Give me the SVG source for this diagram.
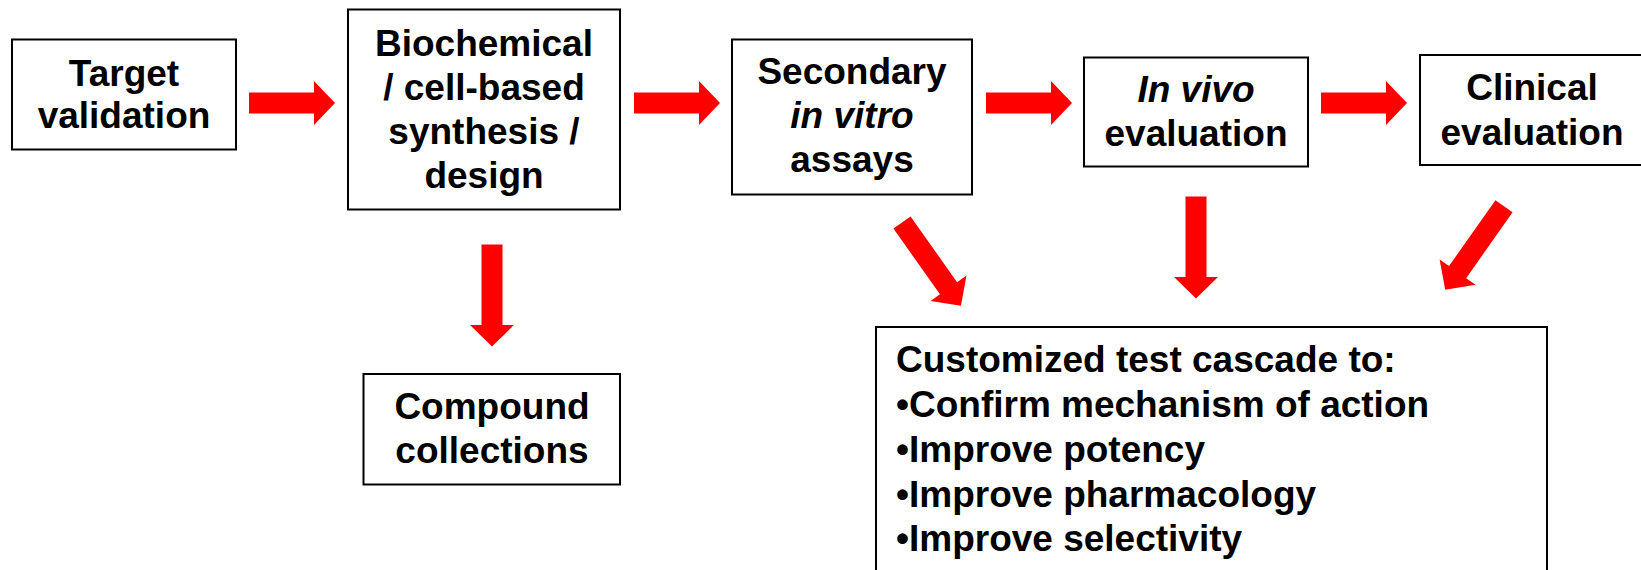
<svg xmlns="http://www.w3.org/2000/svg" width="1641" height="570" viewBox="0 0 1641 570">
<style>
.box{fill:#fff;stroke:#000;stroke-width:2}
.t{font-family:"Liberation Sans",Arial,sans-serif;font-weight:bold;font-size:37px;fill:#000}
.c{text-anchor:middle}
.i{font-style:italic}
.arr{fill:#ff0000}
</style>
<defs>
<polygon id="ah" points="0,-10.5 65,-10.5 65,-22 86,0 65,22 65,10.5 0,10.5"/>
<polygon id="av" points="0,-10.5 80.5,-10.5 80.5,-22 102,0 80.5,22 80.5,10.5 0,10.5"/>
</defs>
<rect width="1641" height="570" fill="#fff"/>
<g id="connectors" class="arr">
<use href="#ah" x="249" y="103"/>
<use href="#ah" x="634" y="103"/>
<use href="#ah" x="986" y="103"/>
<use href="#ah" x="1321" y="103"/>
<use href="#av" transform="translate(492,244.5) rotate(90)"/>
<use href="#av" transform="translate(1196,196.5) rotate(90)"/>
<use href="#av" transform="translate(902,222.5) rotate(54.7)"/>
<use href="#av" transform="translate(1504,206.3) rotate(125.2)"/>
</g>
<g id="target">
<rect class="box" x="12" y="39.5" width="224" height="110"/>
<text class="t c" x="124" y="86">Target</text>
<text class="t c" x="124" y="128">validation</text>
</g>
<g id="biochemical">
<rect class="box" x="348" y="9.5" width="272" height="200"/>
<text class="t c" x="484" y="56">Biochemical</text>
<text class="t c" x="484" y="100">/ cell-based</text>
<text class="t c" x="484" y="144">synthesis /</text>
<text class="t c" x="484" y="188">design</text>
</g>
<g id="secondary">
<rect class="box" x="732" y="39.5" width="240" height="155"/>
<text class="t c" x="852" y="84">Secondary</text>
<text class="t c i" x="852" y="128">in vitro</text>
<text class="t c" x="852" y="172">assays</text>
</g>
<g id="invivo">
<rect class="box" x="1084" y="57.5" width="224" height="109"/>
<text class="t c i" x="1196" y="102">In vivo</text>
<text class="t c" x="1196" y="146">evaluation</text>
</g>
<g id="clinical">
<rect class="box" x="1420" y="55" width="225" height="110"/>
<text class="t c" x="1532" y="100">Clinical</text>
<text class="t c" x="1532" y="145">evaluation</text>
</g>
<g id="compound">
<rect class="box" x="363.5" y="374" width="256.5" height="110.5"/>
<text class="t c" x="492" y="419">Compound</text>
<text class="t c" x="492" y="463">collections</text>
</g>
<g id="cascade">
<rect class="box" x="876" y="327" width="671" height="260"/>
<text class="t" x="896" y="372">Customized test cascade to:</text>
<text class="t" x="896" y="417">•Confirm mechanism of action</text>
<text class="t" x="896" y="462">•Improve potency</text>
<text class="t" x="896" y="507">•Improve pharmacology</text>
<text class="t" x="896" y="551">•Improve selectivity</text>
</g>
</svg>
